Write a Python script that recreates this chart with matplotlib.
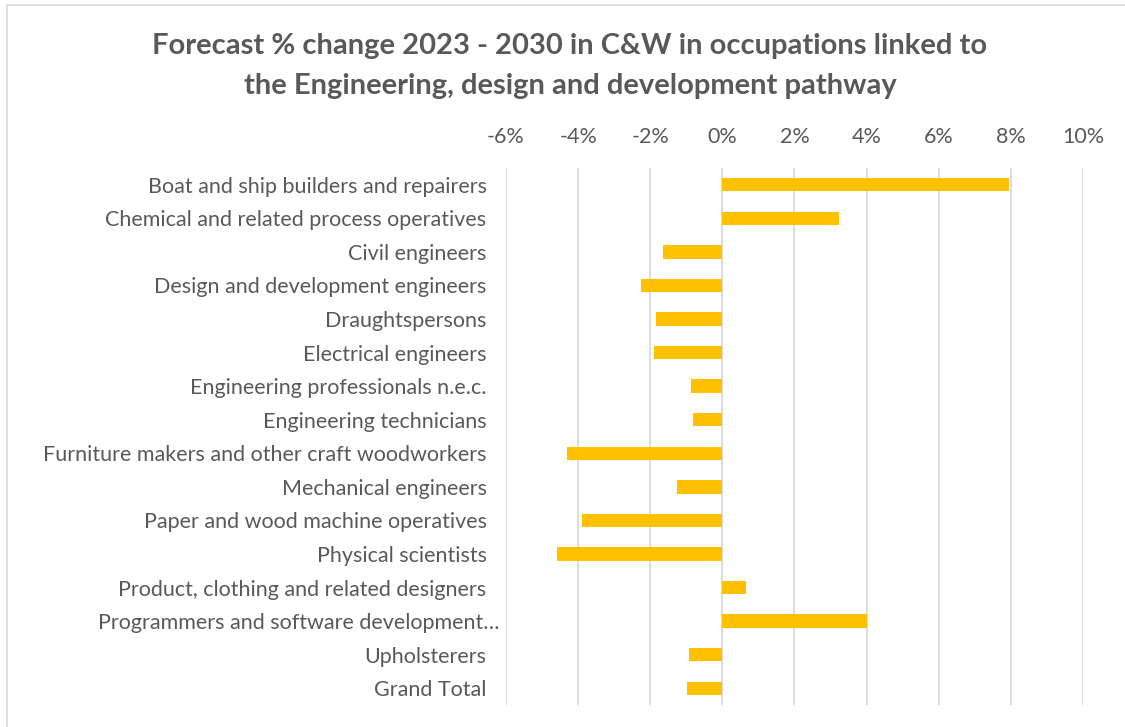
import numpy as np
import matplotlib.pyplot as plt
from matplotlib.patches import Rectangle
from matplotlib.ticker import FuncFormatter
from matplotlib.transforms import ScaledTranslation

# Ammattiryhmät ja ennustettu muutos (%)
occupations = [
    "Boat and ship builders and repairers",
    "Chemical and related process operatives",
    "Civil engineers",
    "Design and development engineers",
    "Draughtspersons",
    "Electrical engineers",
    "Engineering professionals n.e.c.",
    "Engineering technicians",
    "Furniture makers and other craft woodworkers",
    "Mechanical engineers",
    "Paper and wood machine operatives",
    "Physical scientists",
    "Product, clothing and related designers",
    "Programmers and software development\u2026",
    "Upholsterers",
    "Grand Total",
]
change_pct = [7.95, 3.24, -1.65, -2.26, -1.85, -1.90, -0.87, -0.82,
              -4.31, -1.26, -3.89, -4.58, 0.65, 4.0, -0.93, -0.98]
x_ticks = [-6, -4, -2, 0, 2, 4, 6, 8, 10]
title_lines = ["Forecast % change 2023 - 2030 in C&W in occupations linked to",
               "the Engineering, design and development pathway"]

txt_col = '#595959'
plt.rcParams['font.family'] = ['Lato', 'DejaVu Sans']

fig = plt.figure(figsize=(11.25, 7.27), dpi=100)
ax = fig.add_axes([506 / 1125, 1 - 705 / 727, (1083 - 506) / 1125, (705 - 168) / 727])

y = np.arange(len(occupations))
ax.barh(y, change_pct, height=0.4, color='#FFC000', zorder=3)

ax.set_xlim(-6, 10)
ax.set_ylim(len(occupations) - 0.5, -0.5)
ax.set_xticks(x_ticks)
ax.xaxis.set_major_formatter(FuncFormatter(lambda v, p: f"{v:.0f}%"))
ax.xaxis.tick_top()
ax.tick_params(axis='x', length=0, pad=15, labelsize=15.5, labelcolor=txt_col)
ax.set_yticks(y)
ax.set_yticklabels(occupations)
ax.tick_params(axis='y', length=0, pad=14, labelsize=15.5, labelcolor=txt_col)
ax.grid(axis='x', color='#D9D9D9', linewidth=1.3, zorder=0)
for s in ax.spines.values():
    s.set_visible(False)

# lyhennetty nimi ulottuu hieman oikealle kuten Excelissä
lbl = ax.get_yticklabels()[13]
lbl.set_transform(lbl.get_transform() + ScaledTranslation(0.13, 0, fig.dpi_scale_trans))

# Otsikko kahdella rivillä
for i, line in enumerate(title_lines):
    fig.text(570 / 1125, 1 - (46 + 40 * i) / 727, line,
             ha='center', va='center', fontsize=21, fontweight='bold', color=txt_col)

# Kuvion reunaviiva
fig.patches.append(Rectangle((7 / 1125, -0.01), 1.02, 1 - 5 / 727 + 0.01,
                             transform=fig.transFigure, fill=False,
                             edgecolor='#D9D9D9', linewidth=1.2))

fig.savefig('out.png', dpi=100)
